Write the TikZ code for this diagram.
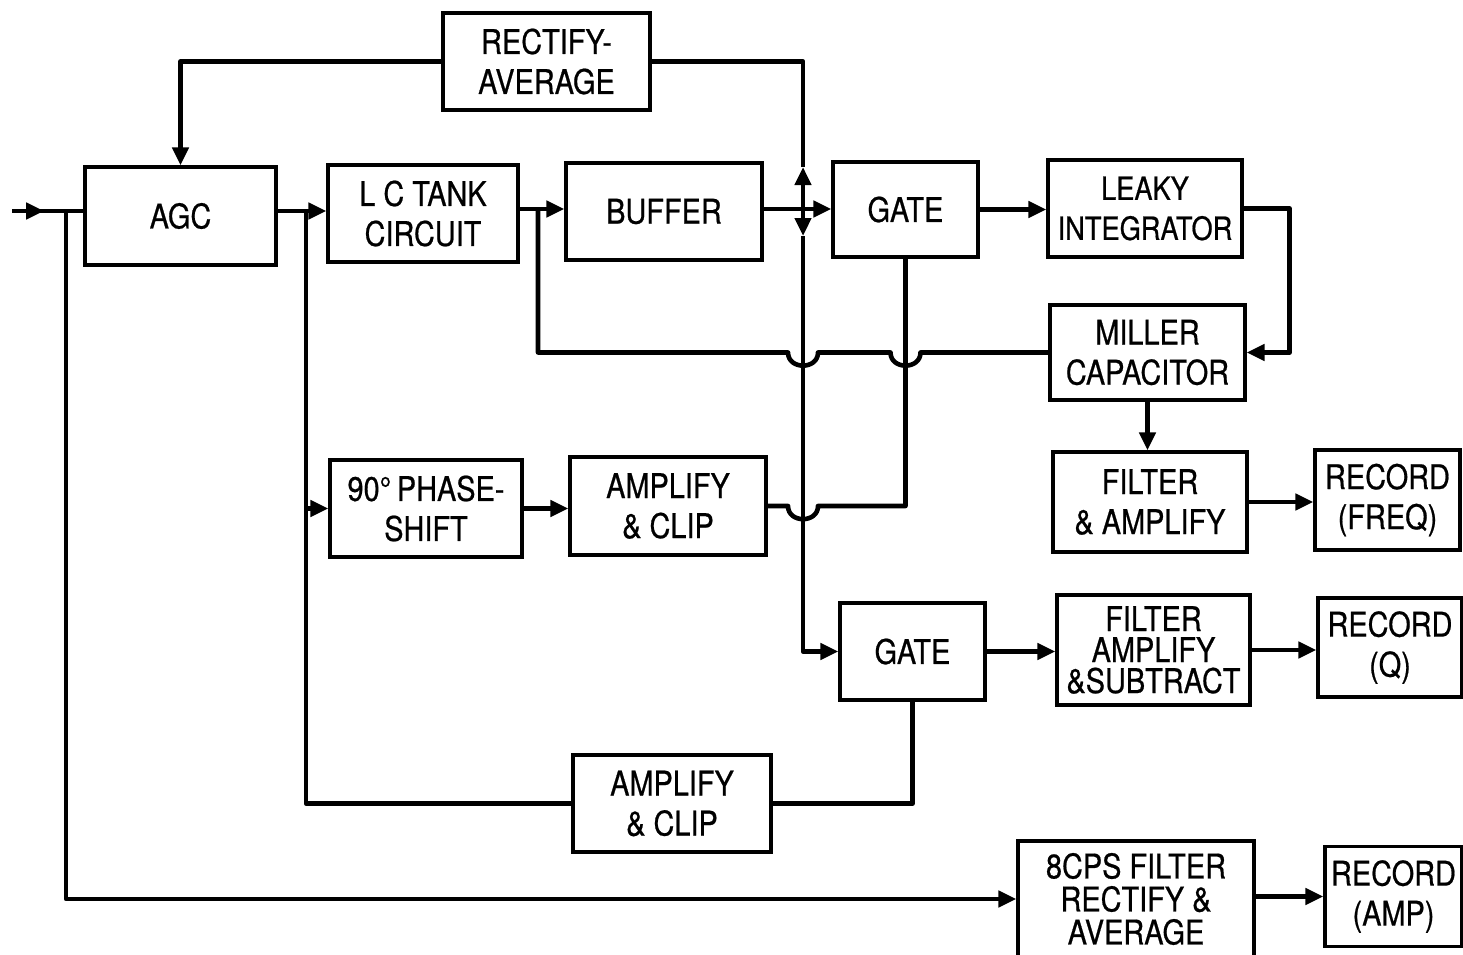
\documentclass[tikz,border=0pt]{standalone}
\usepackage{fontspec}
\setmainfont[FakeStretch=0.85,FakeBold=0.6]{TeX Gyre Heros}
\usetikzlibrary{arrows.meta,decorations.markings}
\tikzset{
  box/.style={draw, line width=1.6pt, inner sep=0pt, align=center, font=\fontsize{17}{20}\selectfont},
  line/.style={line width=2.3pt, line join=round},
  arr/.style={line, -{Triangle[length=9pt,width=8pt]}},
  midarr/.style={line, postaction={decorate}, decoration={markings, mark=at position #1 with {\arrow{Triangle[length=9pt,width=8pt]}}}},
}
\begin{document}
\begin{tikzpicture}[x=0.5pt,y=-0.5pt]
\useasboundingbox (0,0) rectangle (1463,954);
% boxes
\node[box, minimum width=103.5pt, minimum height=48.5pt] (rect) at (546.5,61.5) {RECTIFY-\\AVERAGE};
\node[box, minimum width=95.5pt, minimum height=49pt] (agc) at (180.5,216) {AGC};
\node[box, minimum width=95pt, minimum height=48.5pt] (lc) at (423,213.5) {L C TANK\\CIRCUIT};
\node[box, minimum width=98pt, minimum height=48.5pt] (buf) at (664,211.5) {BUFFER};
\node[box, minimum width=72.5pt, minimum height=47.5pt] (gate1) at (905.5,209.5) {GATE};
\node[box, minimum width=97pt, minimum height=48.5pt, font=\fontsize{16}{20}\selectfont] (leaky) at (1145,208.5) {LEAKY\\INTEGRATOR};
\node[box, minimum width=97.5pt, minimum height=47.5pt] (miller) at (1147.5,352.5) {MILLER\\CAPACITOR};
\node[box, minimum width=97pt, minimum height=50pt] (filt) at (1150,502) {FILTER\\\& AMPLIFY};
\node[box, minimum width=72.5pt, minimum height=50pt] (recf) at (1387.5,500) {RECORD\\(FREQ)};
\node[box, minimum width=96pt, minimum height=48.5pt] (phase) at (426,508.5) {90°\,PHASE-\\SHIFT};
\node[box, minimum width=98pt, minimum height=49pt] (amp1) at (668,506) {AMPLIFY\\\& CLIP};
\node[box, minimum width=72.5pt, minimum height=48.5pt] (gate2) at (912.5,651.5) {GATE};
\node[box, minimum width=96.5pt, minimum height=55pt, font=\fontsize{17}{15.5}\selectfont] (fas) at (1153.5,650) {FILTER\\AMPLIFY\\\&SUBTRACT};
\node[box, minimum width=72pt, minimum height=49.5pt] (recq) at (1390,647.5) {RECORD\\(Q)};
\node[box, minimum width=99pt, minimum height=48.5pt] (amp2) at (672,803.5) {AMPLIFY\\\& CLIP};
\node[box, minimum width=118pt, minimum height=58pt, font=\fontsize{17}{16.5}\selectfont] (cps) at (1136,899) {8CPS FILTER\\RECTIFY \&\\AVERAGE};
\node[box, minimum width=68.5pt, minimum height=50pt] (reca) at (1393.5,896.5) {RECORD\\(AMP)};
% junctions
\coordinate (in) at (12,211);
\coordinate (jin) at (66,211);
\coordinate (j2) at (306,211);
\coordinate (j3) at (538,209);
\coordinate (j4) at (803,209);
\coordinate (up) at (803,167);
\coordinate (dn) at (803,236);
% connectors
\draw[midarr=0.45] (in) -- (agc.west|-in);
\draw[arr] (jin) |- (cps.west);
\draw[arr] (agc.east|-j2) -- (lc.west|-j2);
\draw[arr] (j2) |- (phase.west);
\draw[line] (j2|-phase.west) |- (amp2.west);
\draw[arr] (lc.east|-j3) -- (buf.west|-j3);
\draw[line] (j3) |- (788,352.5) .. controls (788,370) and (818,370) .. (818,352.5) -- (890.5,352.5) .. controls (890.5,370) and (920.5,370) .. (920.5,352.5) -- (miller.west);
\draw[arr] (buf.east|-j4) -- (gate1.west|-j4);
\draw[arr] (j4) -- (up);
\draw[line] (up) |- (rect.east);
\draw[arr] (rect.west) -| (agc.north);
\draw[arr] (j4) -- (dn);
\draw[arr] (dn) |- (gate2.west);
\draw[line] (amp1.east) -- (788,506) .. controls (788,523.5) and (818,523.5) .. (818,506) -| (gate1.south);
\draw[arr] (gate1.east) -- (leaky.west|-gate1.east);
\draw[arr] (leaky.east) -- ++(46,0) |- (miller.east);
\draw[arr] (miller.south) -- (miller.south|-filt.north);
\draw[arr] (filt.east) -- (recf.west|-filt.east);
\draw[arr] (phase.east) -- (amp1.west|-phase.east);
\draw[arr] (gate2.east) -- (fas.west|-gate2.east);
\draw[arr] (fas.east) -- (recq.west|-fas.east);
\draw[line] (amp2.east) -| (gate2.south);
\draw[arr] (cps.east|-reca.west) -- (reca.west);
\end{tikzpicture}
\end{document}
